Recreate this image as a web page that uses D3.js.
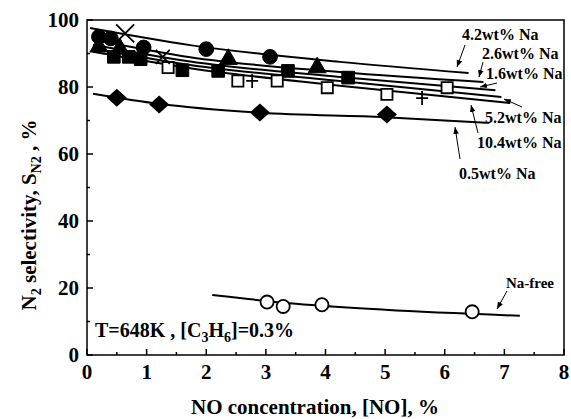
<!DOCTYPE html>
<html>
<head>
<meta charset="utf-8">
<script src="https://cdn.jsdelivr.net/npm/d3@7"></script>
<style>
body { margin: 0; background: #fff; }
text { font-family: "Liberation Serif", "Times New Roman", serif; font-weight: bold; }
</style>
</head>
<body>
<div id="chart"></div>
<script>
// markers, [NO %, selectivity %]
var na42 = [[0.2, 95], [0.4, 94.5], [0.95, 91.8], [2.0, 91.3], [3.07, 89]];
var na26 = [[0.2, 92], [0.55, 91.5], [2.37, 88.3], [3.86, 85.8]];
var na16 = [[0.45, 89], [0.7, 89], [0.9, 88.3], [1.6, 85], [2.2, 84.8], [3.37, 84.8], [4.38, 82.8]];
var na52 = [[1.36, 85.8], [2.53, 81.8], [3.19, 81.8], [4.03, 79.8], [5.03, 77.8], [6.04, 79.8]];
var na104 = [[2.77, 81.8], [5.62, 76.7]];
var naX = [[0.64, 96], [1.27, 89]];
var na05 = [[0.5, 76.8], [1.21, 74.8], [2.9, 72.4], [5.03, 71.8]];
var naFree = [[3.02, 15.8], [3.29, 14.5], [3.94, 15], [6.46, 12.9]];

// fitted curves
var fit42 = [[0.05, 97.6], [1.73, 92.5], [4.24, 87.5], [6.4, 84.2]];
var fit26 = [[0.1, 94.2], [1.73, 88.9], [4.24, 84.5], [6.65, 81.5]];
var fit16 = [[0.1, 92.6], [1.73, 87.6], [4.24, 83], [6.85, 79]];
var fit52 = [[0.1, 91.5], [1.73, 86.6], [4.24, 81.8], [6.95, 77]];
var fit104 = [[0.1, 90.5], [1.73, 85.6], [4.24, 80.4], [7.1, 75.2]];
var fit05 = [[0.1, 78], [1.2, 75], [2.9, 72.3], [5.0, 71], [6.75, 69.3]];
var fitFree = [[2.1, 17.9], [3.5, 15.3], [5.0, 13.5], [7.26, 11.7]];

var xTicks = [0, 1, 2, 3, 4, 5, 6, 7, 8];
var yTicks = [0, 20, 40, 60, 80, 100];

var svg = d3.select("#chart").append("svg")
    .attr("width", 571)
    .attr("height", 419);

var pLeft = 87, pRight = 564, pTop = 20, pBottom = 355;
var x = d3.scaleLinear().domain([0, 8]).range([pLeft, pRight]);
var y = d3.scaleLinear().domain([0, 100]).range([pBottom, pTop]);

// frame
svg.append("rect")
    .attr("x", pLeft).attr("y", pTop)
    .attr("width", pRight - pLeft).attr("height", pBottom - pTop)
    .attr("fill", "none").attr("stroke", "#000").attr("stroke-width", 1.5);

// ticks, inward
var minorX = d3.range(0.5, 8, 1);
var minorY = d3.range(10, 100, 20);
xTicks.forEach(function (t) {
    svg.append("line").attr("x1", x(t)).attr("x2", x(t)).attr("y1", pBottom).attr("y2", pBottom - 6)
        .attr("stroke", "#000").attr("stroke-width", 1.5);
});
minorX.forEach(function (t) {
    svg.append("line").attr("x1", x(t)).attr("x2", x(t)).attr("y1", pBottom).attr("y2", pBottom - 3)
        .attr("stroke", "#000").attr("stroke-width", 1.5);
});
yTicks.forEach(function (t) {
    svg.append("line").attr("x1", pLeft).attr("x2", pLeft + 6).attr("y1", y(t)).attr("y2", y(t))
        .attr("stroke", "#000").attr("stroke-width", 1.5);
});
minorY.forEach(function (t) {
    svg.append("line").attr("x1", pLeft).attr("x2", pLeft + 3).attr("y1", y(t)).attr("y2", y(t))
        .attr("stroke", "#000").attr("stroke-width", 1.5);
});

svg.selectAll("text.xt").data(xTicks).enter().append("text")
    .attr("x", function (d) { return x(d); })
    .attr("y", pBottom + 24)
    .attr("text-anchor", "middle")
    .attr("font-size", "21px")
    .text(function (d) { return d; });
svg.selectAll("text.yt").data(yTicks).enter().append("text")
    .attr("x", pLeft - 8)
    .attr("y", function (d) { return y(d) + 7; })
    .attr("text-anchor", "end")
    .attr("font-size", "21px")
    .text(function (d) { return d; });

// axis titles
svg.append("text")
    .attr("x", 315).attr("y", 414)
    .attr("text-anchor", "middle")
    .attr("font-size", "21px")
    .text("NO concentration, [NO], %");

var yl = svg.append("text")
    .attr("transform", "translate(36,215) rotate(-90)")
    .attr("text-anchor", "middle")
    .attr("font-size", "21px");
yl.append("tspan").text("N");
yl.append("tspan").attr("font-size", "14px").attr("dy", 5).text("2");
yl.append("tspan").attr("dy", -5).text(" selectivity, S");
yl.append("tspan").attr("font-size", "14px").attr("dy", 5).text("N2");
yl.append("tspan").attr("dy", -5).text(" , %");

// curves
var line = d3.line()
    .x(function (d) { return x(d[0]); })
    .y(function (d) { return y(d[1]); })
    .curve(d3.curveMonotoneX);
[fit42, fit26, fit16, fit52, fit104, fit05, fitFree].forEach(function (f) {
    svg.append("path").attr("d", line(f))
        .attr("fill", "none").attr("stroke", "#000").attr("stroke-width", 2);
});

// markers
function addSym(data, type, size, filled) {
    svg.selectAll(null).data(data).enter().append("path")
        .attr("d", d3.symbol().type(type).size(size))
        .attr("transform", function (d) { return "translate(" + x(d[0]) + "," + y(d[1]) + ")"; })
        .attr("fill", filled ? "#000" : "#fff")
        .attr("stroke", "#000")
        .attr("stroke-width", filled ? 1 : 1.8);
}
addSym(na42, d3.symbolCircle, 170, true);
addSym(na26, d3.symbolTriangle, 140, true);
addSym(na16, d3.symbolSquare, 160, true);
addSym(na52, d3.symbolSquare, 125, false);
addSym(naFree, d3.symbolCircle, 135, false);

// diamonds (rotated square)
svg.selectAll(null).data(na05).enter().append("path")
    .attr("d", "M0,-9L10,0L0,9L-10,0Z")
    .attr("transform", function (d) { return "translate(" + x(d[0]) + "," + y(d[1]) + ")"; })
    .attr("fill", "#000");

// plus
na104.forEach(function (d) {
    var cx = x(d[0]), cy = y(d[1]);
    svg.append("path")
        .attr("d", "M" + (cx - 6) + "," + cy + "H" + (cx + 6) + "M" + cx + "," + (cy - 7) + "V" + (cy + 7))
        .attr("stroke", "#000").attr("stroke-width", 1.8);
});
// crosses
var xSize = [9, 7];
naX.forEach(function (d, i) {
    var cx = x(d[0]), cy = y(d[1]), s = xSize[i];
    svg.append("path")
        .attr("d", "M" + (cx - s) + "," + (cy - s) + "L" + (cx + s) + "," + (cy + s) +
            "M" + (cx - s) + "," + (cy + s) + "L" + (cx + s) + "," + (cy - s))
        .attr("stroke", "#000").attr("stroke-width", 1.8);
});

// labels and arrows
svg.append("defs").append("marker")
    .attr("id", "ah").attr("viewBox", "0 0 10 10")
    .attr("refX", 10).attr("refY", 5)
    .attr("markerWidth", 7).attr("markerHeight", 7)
    .attr("orient", "auto")
    .append("path").attr("d", "M0,1L10,5L0,9Z").attr("fill", "#000");

var labels = [
    { t: "4.2wt% Na", lx: 462, ly: 40, a: [465, 45, 457, 67] },
    { t: "2.6wt% Na", lx: 482, ly: 59, a: [483, 62, 479, 77] },
    { t: "1.6wt% Na", lx: 486, ly: 79, a: [497, 83, 480, 87] },
    { t: "5.2wt% Na", lx: 485, ly: 123, a: [522, 107, 504, 99] },
    { t: "10.4wt% Na", lx: 477, ly: 148, a: [478, 133, 471, 105] },
    { t: "0.5wt% Na", lx: 459, ly: 179, a: [460, 159, 455, 127] }
];
labels.forEach(function (l) {
    svg.append("text").attr("x", l.lx).attr("y", l.ly).attr("font-size", "16px").text(l.t);
    svg.append("line")
        .attr("x1", l.a[0]).attr("y1", l.a[1]).attr("x2", l.a[2]).attr("y2", l.a[3])
        .attr("stroke", "#000").attr("stroke-width", 1)
        .attr("marker-end", "url(#ah)");
});
svg.append("text").attr("x", 506).attr("y", 288).attr("font-size", "15px").text("Na-free");
svg.append("line")
    .attr("x1", 507).attr("y1", 291).attr("x2", 497).attr("y2", 309)
    .attr("stroke", "#000").attr("stroke-width", 1)
    .attr("marker-end", "url(#ah)");

var cond = svg.append("text").attr("x", 95).attr("y", 337).attr("font-size", "20px");
cond.append("tspan").text("T=648K , [C");
cond.append("tspan").attr("font-size", "14px").attr("dy", 5).text("3");
cond.append("tspan").attr("dy", -5).text("H");
cond.append("tspan").attr("font-size", "14px").attr("dy", 5).text("6");
cond.append("tspan").attr("dy", -5).text("]=0.3%");
</script>
</body>
</html>
